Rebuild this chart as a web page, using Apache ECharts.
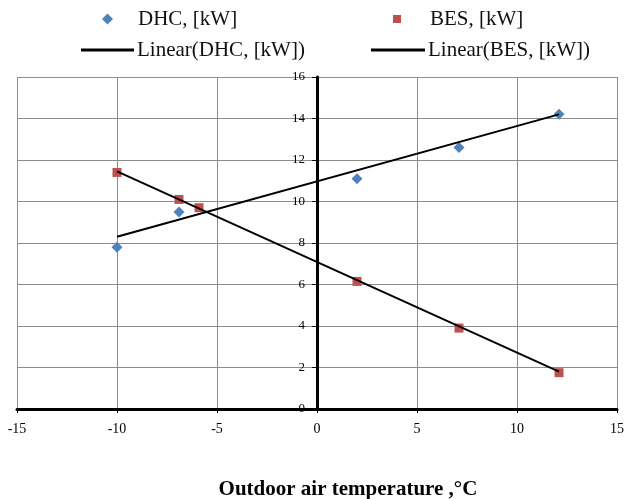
<!DOCTYPE html>
<html>
<head>
<meta charset="utf-8">
<script src="https://cdn.jsdelivr.net/npm/echarts@6/dist/echarts.min.js"></script>
<style>
  html, body { margin: 0; padding: 0; background: #fff; }
  #chart { width: 625px; height: 499px; }
</style>
</head>
<body>
<div id="chart"></div>
<script>
const dhcTemps = [-10, -6.9, 2, 7.1, 12.1];
const dhcLoads = [7.8, 9.5, 11.1, 12.6, 14.2];
const besTemps = [-10, -6.9, -5.9, 2, 7.1, 12.1];
const besLoads = [11.4, 10.1, 9.7, 6.15, 3.9, 1.75];

// Trend line ends (Excel linear trendlines, as drawn)
const dhcTrendTemps = [-10, 12.1];
const dhcTrendLoads = [8.3, 14.2];
const besTrendTemps = [-10, 12.1];
const besTrendLoads = [11.45, 1.8];

const SERIF = '"Liberation Serif", "DejaVu Serif", serif';
const DHC_COLOR = '#4f81bd';
const BES_COLOR = '#c0504d';

const zip = (xs, ys) => xs.map((x, i) => [x, ys[i]]);

const legendText = (padLeft) => ({
    fontFamily: SERIF,
    fontSize: 21,
    lineHeight: 24,
    color: '#111',
    padding: [0, 0, 0, padLeft]
});

const legendBase = {
    orient: 'horizontal',
    selectedMode: false,
    padding: 0
};

const chart = echarts.init(document.getElementById('chart'));
chart.setOption({
    animation: false,
    backgroundColor: '#fff',
    legend: [
        { ...legendBase, left: 102, top: 7, itemWidth: 11, itemHeight: 11,
          data: [{ name: 'DHC, [kW]', icon: 'diamond' }], textStyle: legendText(20) },
        { ...legendBase, left: 393, top: 7, itemWidth: 8, itemHeight: 8,
          data: [{ name: 'BES, [kW]', icon: 'rect' }], textStyle: legendText(24) },
        { ...legendBase, left: 81, top: 38, itemWidth: 53, itemHeight: 3,
          data: [{ name: 'Linear(DHC, [kW])', icon: 'rect' }], textStyle: legendText(-2) },
        { ...legendBase, left: 371, top: 38, itemWidth: 54, itemHeight: 3,
          data: [{ name: 'Linear(BES, [kW])', icon: 'rect' }], textStyle: legendText(-2) }
    ],
    grid: { left: 17, right: 8, top: 77, bottom: 90, containLabel: false, outerBoundsMode: 'none' },
    xAxis: {
        type: 'value',
        min: -15,
        max: 15,
        interval: 5,
        name: 'Outdoor air temperature ,°C',
        nameLocation: 'middle',
        nameGap: 70,
        nameTextStyle: { fontFamily: SERIF, fontSize: 21, fontWeight: 'bold', color: '#000', padding: [0, 0, 0, 62] },
        axisLine: { show: true, onZero: false, lineStyle: { color: '#000', width: 3 } },
        axisTick: { show: true, length: 4, lineStyle: { color: '#000', width: 1 } },
        axisLabel: { fontFamily: SERIF, fontSize: 14, color: '#000', margin: 13 },
        splitLine: { show: true, lineStyle: { color: '#8c8c8c', width: 1 } }
    },
    yAxis: {
        type: 'value',
        min: 0,
        max: 16,
        interval: 2,
        position: 'left',
        offset: -300,
        axisLine: { show: true, onZero: false, lineStyle: { color: '#000', width: 3 } },
        axisTick: { show: true, length: 5, lineStyle: { color: '#000', width: 1 } },
        axisLabel: { fontFamily: SERIF, fontSize: 13, color: '#000', margin: 12 },
        splitLine: { show: true, lineStyle: { color: '#8c8c8c', width: 1 } }
    },
    series: [
        {
            name: 'DHC, [kW]',
            type: 'scatter',
            symbol: 'diamond',
            symbolSize: 11,
            itemStyle: { color: DHC_COLOR, opacity: 1 },
            data: zip(dhcTemps, dhcLoads),
            z: 3
        },
        {
            name: 'BES, [kW]',
            type: 'scatter',
            symbol: 'rect',
            symbolSize: 9,
            itemStyle: { color: BES_COLOR, opacity: 1 },
            data: zip(besTemps, besLoads),
            z: 3
        },
        {
            name: 'Linear(DHC, [kW])',
            type: 'line',
            symbol: 'none',
            itemStyle: { color: '#000' },
            lineStyle: { color: '#000', width: 2 },
            data: zip(dhcTrendTemps, dhcTrendLoads),
            z: 4
        },
        {
            name: 'Linear(BES, [kW])',
            type: 'line',
            symbol: 'none',
            itemStyle: { color: '#000' },
            lineStyle: { color: '#000', width: 2 },
            data: zip(besTrendTemps, besTrendLoads),
            z: 4
        }
    ]
});
</script>
</body>
</html>
